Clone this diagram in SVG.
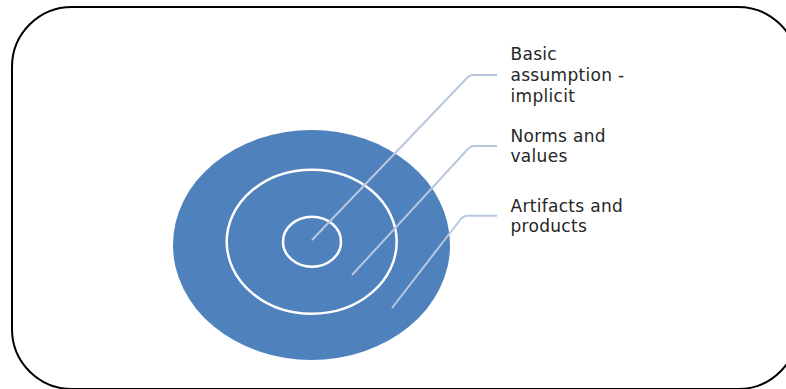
<svg xmlns="http://www.w3.org/2000/svg" width="786" height="389" viewBox="0 0 786 389">
<style>
.frame{fill:#ffffff;stroke:#000000;stroke-width:2}
.ring{fill:none;stroke:#ffffff;stroke-width:2.5}
.lead{fill:none;stroke:#b9c7de;stroke-width:2;stroke-linejoin:round}
.lbl{font-family:"DejaVu Sans","Open Sans",sans-serif;font-size:17px;letter-spacing:0.3px;fill:#262626}
</style>
<rect class="frame" x="12" y="7" width="786" height="382" rx="60" ry="60"/>
<g id="outer">
<ellipse cx="311.5" cy="245" rx="138.5" ry="115" fill="#4f81bd"/>
</g>
<g id="middle">
<ellipse class="ring" cx="311.7" cy="241.7" rx="85" ry="72"/>
</g>
<g id="inner">
<ellipse class="ring" cx="312" cy="241.7" rx="29" ry="25"/>
</g>
<g id="connectors">
<path class="lead" d="M312,240 L466,79 Q469,75 474,75 L497,75"/>
<path class="lead" d="M352,275 L467,150 Q470,146 475,146 L497,146"/>
<path class="lead" d="M392,308 L460,220 Q463,215.7 468,215.7 L497,215.7"/>
</g>
<g id="label-basic">
<text class="lbl" x="510.5" y="60">Basic</text>
<text class="lbl" x="510.5" y="80.5">assumption -</text>
<text class="lbl" x="510.5" y="101.5">implicit</text>
</g>
<g id="label-norms">
<text class="lbl" x="510.5" y="141.5">Norms and</text>
<text class="lbl" x="510.5" y="161.5">values</text>
</g>
<g id="label-artifacts">
<text class="lbl" x="510.5" y="212">Artifacts and</text>
<text class="lbl" x="510.5" y="232">products</text>
</g>
</svg>
